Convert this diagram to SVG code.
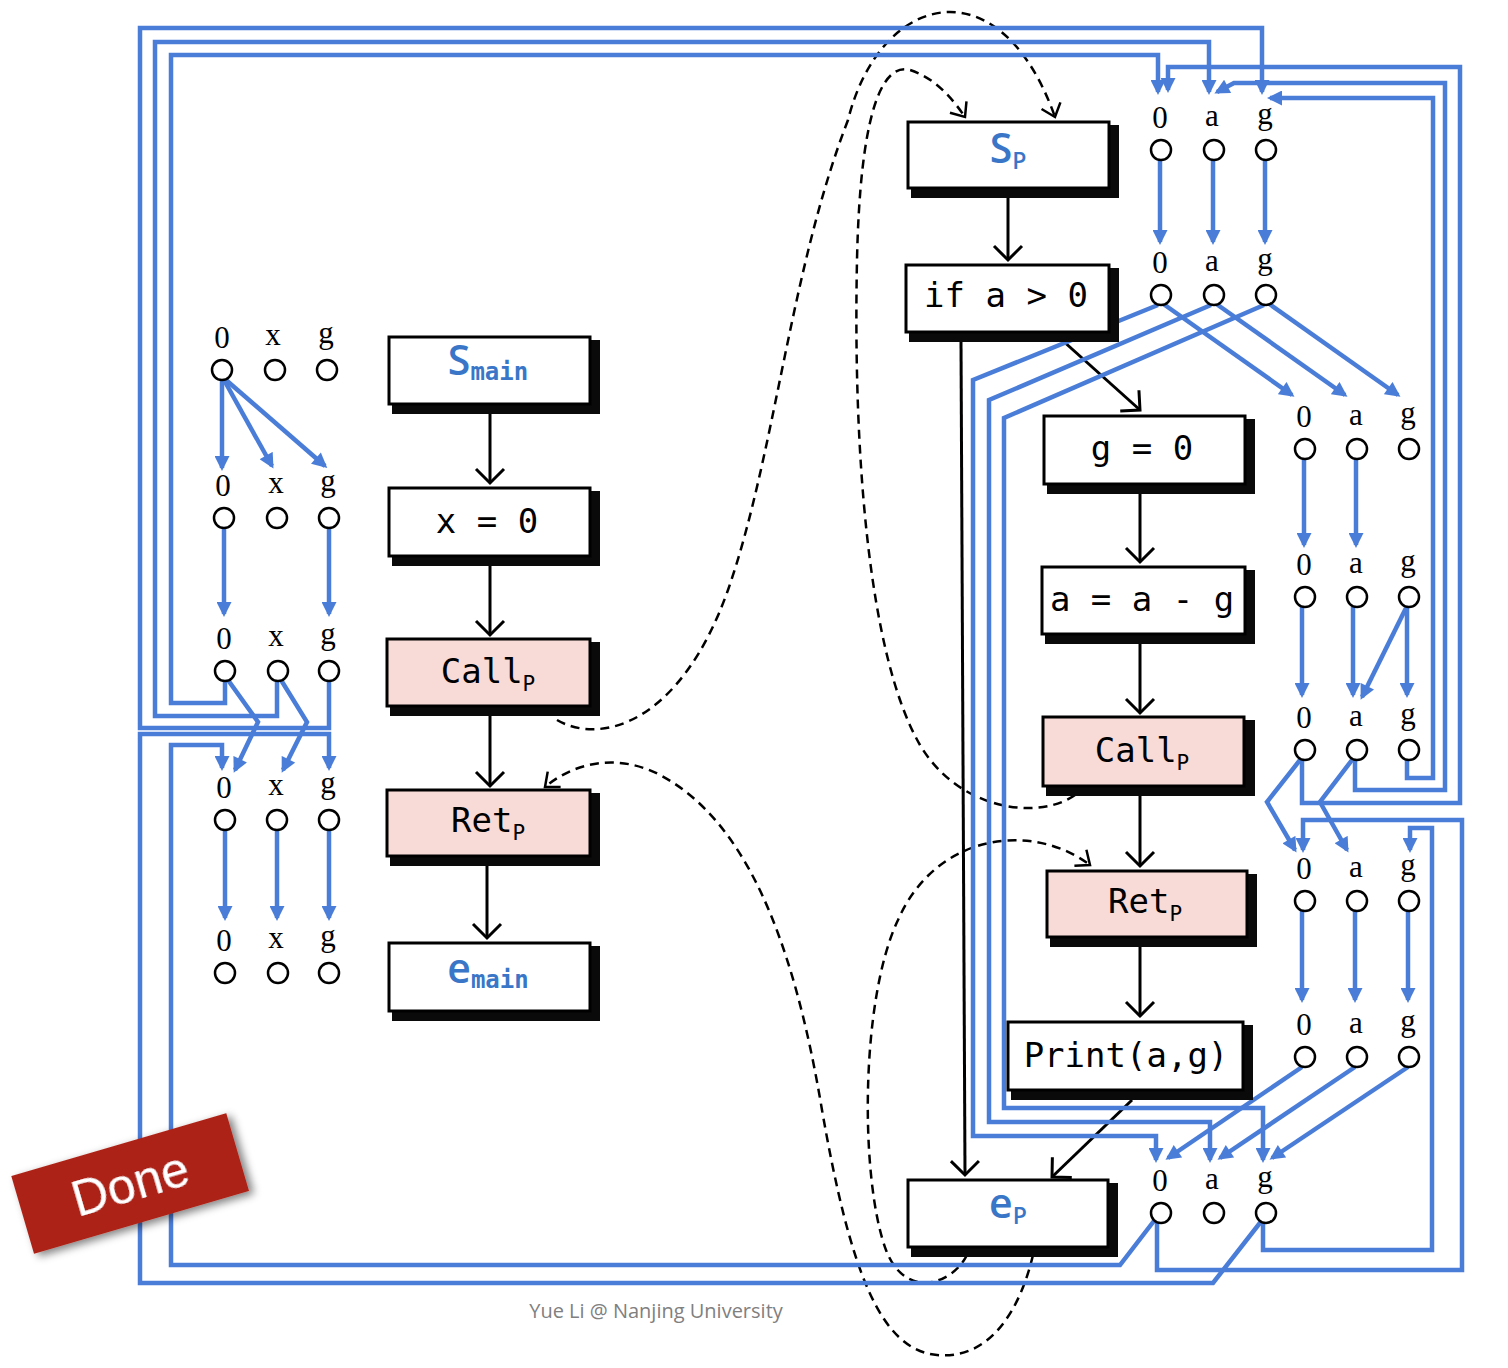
<svg xmlns="http://www.w3.org/2000/svg" width="1508" height="1368" viewBox="0 0 1508 1368">
<defs>
<style>
.bl{fill:none;stroke:#4a7dd8;stroke-width:4.5;stroke-linejoin:miter;marker-end:url(#ba)}
.ke{fill:none;stroke:#000;stroke-width:3;marker-end:url(#ka)}
.kd{fill:none;stroke:#000;stroke-width:2.5;stroke-dasharray:9,6;marker-end:url(#kda)}
.box{fill:#fff;stroke:#000;stroke-width:3}
.pink{fill:#f8dbd7;stroke:#000;stroke-width:3}
.sh{fill:#0a0a0a}
.mono{font-family:"DejaVu Sans Mono","Liberation Mono",monospace;font-size:34px;fill:#000}
.sub{font-size:21px}
.bS{font-family:"Open Sans","Liberation Sans",sans-serif;font-weight:600;font-size:41px;fill:#3a76c8}
.bsub{font-family:"DejaVu Sans Mono",monospace;font-weight:bold;font-size:24px;fill:#3a76c8}
.psub{font-family:"Open Sans","Liberation Sans",sans-serif;font-weight:600;font-size:23px;fill:#3a76c8}
.lab{font-family:"Liberation Serif","DejaVu Serif",serif;font-size:31px;fill:#000;text-anchor:middle}
.dot{fill:#fff;stroke:#000;stroke-width:2.5}
</style>
<marker id="ba" viewBox="0 0 10 10" refX="8" refY="5" markerWidth="16" markerHeight="15" markerUnits="userSpaceOnUse" orient="auto"><path d="M0,0 L10,5 L0,10 z" fill="#4a7dd8"/></marker>
<marker id="ka" viewBox="-2 -2 18 32" refX="14" refY="14" markerWidth="18" markerHeight="32" markerUnits="userSpaceOnUse" orient="auto" overflow="visible"><path d="M0,0 L14,14 L0,28" fill="none" stroke="#000" stroke-width="3"/></marker>
<marker id="kda" viewBox="-2 -2 16 24" refX="12" refY="10" markerWidth="16" markerHeight="24" markerUnits="userSpaceOnUse" orient="auto" overflow="visible"><path d="M0,0 L12,10 L0,20" fill="none" stroke="#000" stroke-width="2.5"/></marker>
<filter id="dsh" x="-20%" y="-30%" width="140%" height="160%"><feGaussianBlur in="SourceAlpha" stdDeviation="4"/><feOffset dx="4" dy="4" result="b"/><feComponentTransfer><feFuncA type="linear" slope="0.5"/></feComponentTransfer><feMerge><feMergeNode/><feMergeNode in="SourceGraphic"/></feMerge></filter>
</defs>
<rect width="1508" height="1368" fill="#fff"/>

<g id="connectors">
<path class="ke" d="M490,413 L490,483"/>
<path class="ke" d="M490,565 L490,635"/>
<path class="ke" d="M490,715 L490,786"/>
<path class="ke" d="M487,865 L487,938"/>
<path class="ke" d="M1008,198 L1008,260"/>
<path class="ke" d="M1062,340 L1140,410"/>
<path class="ke" d="M961,342 L965,1175"/>
<path class="ke" d="M1140,494 L1140,562"/>
<path class="ke" d="M1140,644 L1140,713"/>
<path class="ke" d="M1140,796 L1140,866"/>
<path class="ke" d="M1140,947 L1140,1016"/>
<path class="ke" d="M1132,1100 L1052,1177"/>
<path class="kd" d="M557,720 C600,745 680,725 728,590 C775,455 790,270 848,120 C880,-8 1000,-38 1055,117"/>
<path class="kd" d="M1075,795 C1040,820 960,812 920,745 C868,655 853,450 857,260 C860,120 880,62 910,70 C935,78 952,98 965,117"/>
<path class="kd" d="M967,1255 C952,1285 905,1300 886,1250 C860,1180 860,1000 898,920 C935,835 1030,820 1090,865"/>
<path class="kd" d="M1033,1255 C1020,1310 990,1360 937,1355 C880,1350 850,1270 822,1110 C792,930 742,820 662,776 C622,754 577,760 545,787"/>

<path class="bl" d="M222,380 L222,468"/>
<path class="bl" d="M224,380 L272,466"/>
<path class="bl" d="M226,380 L325,466"/>
<path class="bl" d="M224,528 L224,614"/>
<path class="bl" d="M329,528 L329,614"/>
<path class="bl" d="M228,680 L258,722 L235,770"/>
<path class="bl" d="M281,680 L307,722 L283,770"/>
<path class="bl" d="M225,681 L225,703 L171,703 L171,55 L1158,55 L1158,92"/>
<path class="bl" d="M277,681 L277,716 L155,716 L155,42 L1209,42 L1209,92"/>
<path class="bl" d="M329,681 L329,728 L140,728 L140,28 L1262,28 L1262,92"/>
<path class="bl" d="M1157,1217 L1120,1265 L171,1265 L171,745 L222,745 L222,768"/>
<path class="bl" d="M1263,1219 L1213,1283 L140,1283 L140,734 L329,734 L329,768"/>
<path class="bl" d="M225,830 L225,918"/>
<path class="bl" d="M277,830 L277,918"/>
<path class="bl" d="M329,830 L329,918"/>

<path class="bl" d="M1160,160 L1160,242"/>
<path class="bl" d="M1213,160 L1213,242"/>
<path class="bl" d="M1265,160 L1265,242"/>
<path class="bl" d="M1302,760 L1302,803 L1460,803 L1460,67 L1168,67 L1168,90"/>
<path class="bl" d="M1355,760 L1355,790 L1445,790 L1445,83 L1234,83 L1217,92"/>
<path class="bl" d="M1407,760 L1407,778 L1433,778 L1433,98 L1270,98"/>
<path class="bl" d="M1162,303 L1292,395"/>
<path class="bl" d="M1215,303 L1345,395"/>
<path class="bl" d="M1268,303 L1398,395"/>
<path class="bl" d="M1158,305 L973,380 L973,1136 L1156,1136 L1156,1160"/>
<path class="bl" d="M1211,305 L989,400 L989,1122 L1210,1122 L1210,1160"/>
<path class="bl" d="M1264,305 L1004,418 L1004,1108 L1263,1108 L1263,1160"/>
<path class="bl" d="M1304,459 L1304,545"/>
<path class="bl" d="M1356,459 L1356,545"/>
<path class="bl" d="M1302,607 L1302,695"/>
<path class="bl" d="M1353,607 L1353,695"/>
<path class="bl" d="M1406,608 L1362,697"/>
<path class="bl" d="M1407,607 L1407,695"/>
<path class="bl" d="M1300,760 L1267,802 L1295,850"/>
<path class="bl" d="M1352,760 L1320,802 L1347,850"/>
<path class="bl" d="M1157,1220 L1157,1270 L1462,1270 L1462,820 L1303,820 L1303,850"/>
<path class="bl" d="M1263,1222 L1263,1250 L1432,1250 L1432,828 L1410,828 L1410,850"/>
<path class="bl" d="M1302,911 L1302,1000"/>
<path class="bl" d="M1355,911 L1355,1000"/>
<path class="bl" d="M1408,911 L1408,1000"/>
<path class="bl" d="M1302,1067 L1168,1158"/>
<path class="bl" d="M1355,1067 L1220,1158"/>
<path class="bl" d="M1408,1067 L1272,1158"/>
</g>

<g id="s_main"><rect class="sh" x="392" y="340" width="208" height="74"/><rect class="box" x="389" y="337" width="201" height="67"/><text x="488" y="375" text-anchor="middle"><tspan class="bS">S</tspan><tspan class="bsub" dy="5">main</tspan></text></g>
<g id="x0"><rect class="sh" x="392" y="491" width="208" height="75"/><rect class="box" x="389" y="488" width="201" height="68"/><text class="mono" x="487" y="533" text-anchor="middle" xml:space="preserve">x = 0</text></g>
<g id="call_main"><rect class="sh" x="390" y="642" width="210" height="74"/><rect class="pink" x="387" y="639" width="203" height="67"/><text class="mono" x="488" y="683" text-anchor="middle">Call<tspan class="sub" dy="8">P</tspan></text></g>
<g id="ret_main"><rect class="sh" x="390" y="793" width="210" height="73"/><rect class="pink" x="387" y="790" width="203" height="66"/><text class="mono" x="488" y="832" text-anchor="middle">Ret<tspan class="sub" dy="8">P</tspan></text></g>
<g id="e_main"><rect class="sh" x="392" y="946" width="208" height="75"/><rect class="box" x="389" y="943" width="201" height="68"/><text x="488" y="983" text-anchor="middle"><tspan class="bS">e</tspan><tspan class="bsub" dy="5">main</tspan></text></g>

<g id="s_p"><rect class="sh" x="911" y="125" width="208" height="73"/><rect class="box" x="908" y="122" width="201" height="66"/><text x="1008" y="163" text-anchor="middle"><tspan class="bS">S</tspan><tspan class="psub" dy="6">P</tspan></text></g>
<g id="if"><rect class="sh" x="909" y="268" width="210" height="74"/><rect class="box" x="906" y="265" width="203" height="67"/><text class="mono" x="1006" y="307" text-anchor="middle" xml:space="preserve">if a &gt; 0</text></g>
<g id="g0"><rect class="sh" x="1047" y="419" width="208" height="75"/><rect class="box" x="1044" y="416" width="201" height="68"/><text class="mono" x="1142" y="460" text-anchor="middle" xml:space="preserve">g = 0</text></g>
<g id="aag"><rect class="sh" x="1045" y="570" width="210" height="74"/><rect class="box" x="1042" y="567" width="203" height="67"/><text class="mono" x="1142" y="611" text-anchor="middle" xml:space="preserve">a = a - g</text></g>
<g id="call_p"><rect class="sh" x="1046" y="720" width="209" height="76"/><rect class="pink" x="1043" y="717" width="201" height="69"/><text class="mono" x="1142" y="762" text-anchor="middle">Call<tspan class="sub" dy="8">P</tspan></text></g>
<g id="ret_p"><rect class="sh" x="1050" y="874" width="207" height="73"/><rect class="pink" x="1047" y="871" width="200" height="66"/><text class="mono" x="1145" y="913" text-anchor="middle">Ret<tspan class="sub" dy="8">P</tspan></text></g>
<g id="print"><rect class="sh" x="1011" y="1025" width="242" height="75"/><rect class="box" x="1008" y="1022" width="235" height="68"/><text class="mono" x="1126" y="1067" text-anchor="middle">Print(a,g)</text></g>
<g id="e_p"><rect class="sh" x="911" y="1183" width="207" height="74"/><rect class="box" x="908" y="1180" width="200" height="67"/><text x="1008" y="1218" text-anchor="middle"><tspan class="bS">e</tspan><tspan class="psub" dy="6">P</tspan></text></g>

<g id="facts_main">
<text class="lab" x="222" y="348">0</text><text class="lab" x="273" y="345">x</text><text class="lab" x="326" y="343">g</text>
<circle class="dot" cx="222" cy="370" r="10"/><circle class="dot" cx="275" cy="370" r="10"/><circle class="dot" cx="327" cy="370" r="10"/>
<text class="lab" x="223" y="496">0</text><text class="lab" x="276" y="493">x</text><text class="lab" x="328" y="491">g</text>
<circle class="dot" cx="224" cy="518" r="10"/><circle class="dot" cx="277" cy="518" r="10"/><circle class="dot" cx="329" cy="518" r="10"/>
<text class="lab" x="224" y="649">0</text><text class="lab" x="276" y="646">x</text><text class="lab" x="328" y="644">g</text>
<circle class="dot" cx="225" cy="671" r="10"/><circle class="dot" cx="278" cy="671" r="10"/><circle class="dot" cx="329" cy="671" r="10"/>
<text class="lab" x="224" y="798">0</text><text class="lab" x="276" y="795">x</text><text class="lab" x="328" y="793">g</text>
<circle class="dot" cx="225" cy="820" r="10"/><circle class="dot" cx="277" cy="820" r="10"/><circle class="dot" cx="329" cy="820" r="10"/>
<text class="lab" x="224" y="951">0</text><text class="lab" x="276" y="948">x</text><text class="lab" x="328" y="946">g</text>
<circle class="dot" cx="225" cy="973" r="10"/><circle class="dot" cx="278" cy="973" r="10"/><circle class="dot" cx="329" cy="973" r="10"/>
</g>

<g id="facts_p">
<text class="lab" x="1160" y="128">0</text><text class="lab" x="1212" y="126">a</text><text class="lab" x="1265" y="124">g</text>
<circle class="dot" cx="1161" cy="150" r="10"/><circle class="dot" cx="1214" cy="150" r="10"/><circle class="dot" cx="1266" cy="150" r="10"/>
<text class="lab" x="1160" y="273">0</text><text class="lab" x="1212" y="271">a</text><text class="lab" x="1265" y="269">g</text>
<circle class="dot" cx="1161" cy="295" r="10"/><circle class="dot" cx="1214" cy="295" r="10"/><circle class="dot" cx="1266" cy="295" r="10"/>
<text class="lab" x="1304" y="427">0</text><text class="lab" x="1356" y="425">a</text><text class="lab" x="1408" y="423">g</text>
<circle class="dot" cx="1305" cy="449" r="10"/><circle class="dot" cx="1357" cy="449" r="10"/><circle class="dot" cx="1409" cy="449" r="10"/>
<text class="lab" x="1304" y="575">0</text><text class="lab" x="1356" y="573">a</text><text class="lab" x="1408" y="571">g</text>
<circle class="dot" cx="1305" cy="597" r="10"/><circle class="dot" cx="1357" cy="597" r="10"/><circle class="dot" cx="1409" cy="597" r="10"/>
<text class="lab" x="1304" y="728">0</text><text class="lab" x="1356" y="726">a</text><text class="lab" x="1408" y="724">g</text>
<circle class="dot" cx="1305" cy="750" r="10"/><circle class="dot" cx="1357" cy="750" r="10"/><circle class="dot" cx="1409" cy="750" r="10"/>
<text class="lab" x="1304" y="879">0</text><text class="lab" x="1356" y="877">a</text><text class="lab" x="1408" y="875">g</text>
<circle class="dot" cx="1305" cy="901" r="10"/><circle class="dot" cx="1357" cy="901" r="10"/><circle class="dot" cx="1409" cy="901" r="10"/>
<text class="lab" x="1304" y="1035">0</text><text class="lab" x="1356" y="1033">a</text><text class="lab" x="1408" y="1031">g</text>
<circle class="dot" cx="1305" cy="1057" r="10"/><circle class="dot" cx="1357" cy="1057" r="10"/><circle class="dot" cx="1409" cy="1057" r="10"/>
<text class="lab" x="1160" y="1191">0</text><text class="lab" x="1212" y="1189">a</text><text class="lab" x="1265" y="1187">g</text>
<circle class="dot" cx="1161" cy="1213" r="10"/><circle class="dot" cx="1214" cy="1213" r="10"/><circle class="dot" cx="1266" cy="1213" r="10"/>
</g>

<g id="done" transform="translate(130,1183) rotate(-16.3)" filter="url(#dsh)">
<rect x="-112" y="-40" width="224" height="81" fill="#ad2417"/>
<text x="0" y="18" text-anchor="middle" font-family="Liberation Sans,Arial,sans-serif" font-size="50" fill="#fff">Done</text>
</g>

<text x="656" y="1318" text-anchor="middle" font-family="Open Sans,Liberation Sans,sans-serif" font-size="20" fill="#808080">Yue Li @ Nanjing University</text>
</svg>
